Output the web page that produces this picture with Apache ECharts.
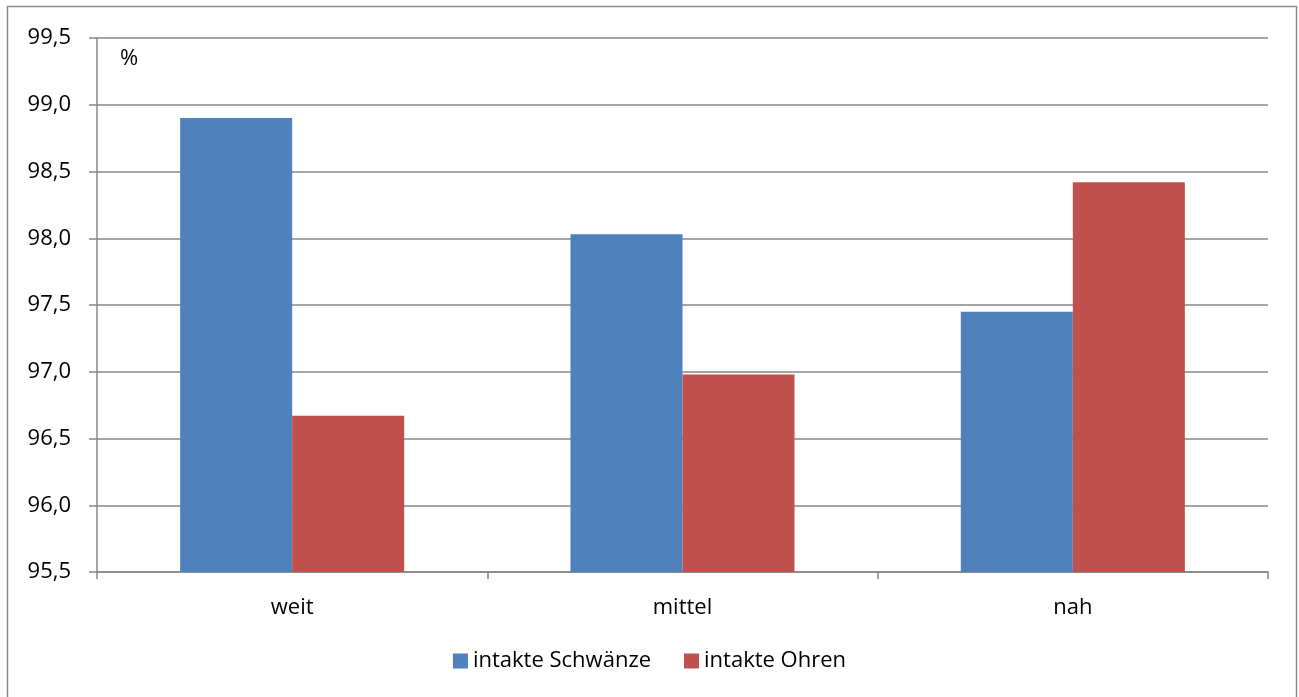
<!DOCTYPE html>
<html><head><meta charset="utf-8">
<script src="https://cdn.jsdelivr.net/npm/echarts@6/dist/echarts.min.js"></script>
<style>html,body{margin:0;padding:0;background:#fff}#c{width:1299px;height:697px}</style>
</head><body><div id="c"></div>
<script>
var categories = ['weit', 'mittel', 'nah'];
var schwaenze = [98.90, 98.03, 97.45];
var ohren = [96.67, 96.98, 98.42];
var seriesNames = ['intakte Schwänze', 'intakte Ohren'];
var FONT = 'Open Sans';
var chart = echarts.init(document.getElementById('c'));
chart.setOption({
  animation: false,
  textStyle: {fontFamily: FONT},
  graphic: [
    {type: 'rect', shape: {x: 7.5, y: 6.5, width: 1289, height: 700}, style: {fill: 'none', stroke: '#888888', lineWidth: 1.5}, silent: true},
    {type: 'text', left: 120, top: 48, style: {text: '%', font: '22px "Open Sans"', fill: '#000'}}
  ],
  grid: {left: 97, right: 31, top: 38, bottom: 125, containLabel: false},
  legend: {
    bottom: 20, left: 'center', itemWidth: 15, itemHeight: 15, itemGap: 33,
    icon: 'rect', textStyle: {fontSize: 22, color: '#000', fontFamily: FONT},
    data: seriesNames
  },
  xAxis: {
    type: 'category', data: categories,
    axisLine: {lineStyle: {color: '#868686', width: 1.5}},
    axisTick: {show: true, length: 7, lineStyle: {color: '#868686', width: 1.5}},
    axisLabel: {fontSize: 22, color: '#000', margin: 25, fontFamily: FONT}
  },
  yAxis: {
    type: 'value', min: 95.5, max: 99.5, interval: 0.5,
    axisLine: {show: true, lineStyle: {color: '#868686', width: 1.5}},
    axisTick: {show: true, length: 8, lineStyle: {color: '#868686', width: 1.5}},
    splitLine: {lineStyle: {color: '#868686', width: 1.5}},
    axisLabel: {fontSize: 22, color: '#000', margin: 26, fontFamily: FONT,
      formatter: function (v) { return v.toFixed(1).replace('.', ','); }}
  },
  series: [
    {name: seriesNames[0], type: 'bar', data: schwaenze, barGap: '0%', barCategoryGap: '42.6%', itemStyle: {color: '#4F81BD'}},
    {name: seriesNames[1], type: 'bar', data: ohren, itemStyle: {color: '#C0504D'}}
  ]
});
</script></body></html>
